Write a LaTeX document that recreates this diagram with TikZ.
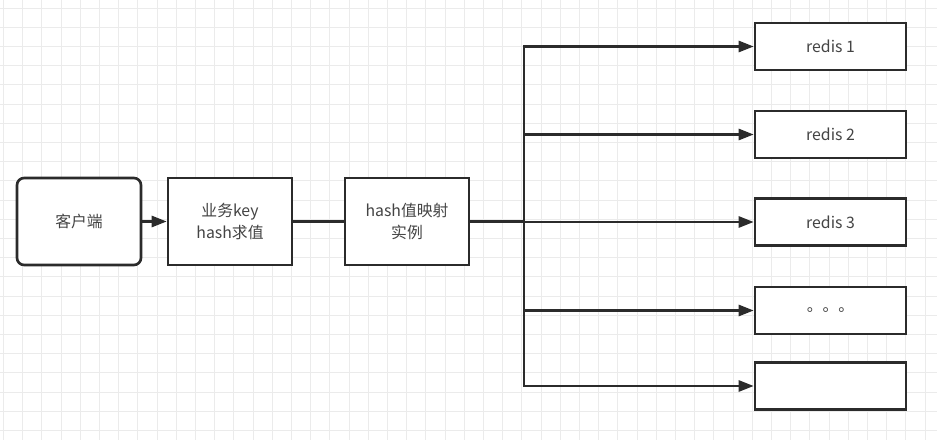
\documentclass[tikz,border=0pt]{standalone}
\usepackage{fontspec}
\setmainfont{Noto Sans CJK SC}
\usetikzlibrary{arrows.meta}
\definecolor{gridgray}{HTML}{EBEBEB}
\definecolor{linegray}{HTML}{2B2B2B}
\definecolor{textgray}{HTML}{444444}

\begin{document}
\begin{tikzpicture}[x=0.02cm,y=-0.02cm,
    box/.style={draw=linegray, line width=1.5pt, fill=white, align=center,
      inner sep=0pt, text=textgray, font=\fontsize{9}{13}\selectfont},
    bigbox/.style={box, minimum width=2.48cm, minimum height=1.74cm},
    redisbox/.style={box, minimum width=3.02cm, minimum height=0.94cm},
    conn/.style={draw=linegray, line width=1.5pt},
    arr/.style={conn, -{Triangle[length=0.3cm,width=0.22cm]}}]
    \useasboundingbox (0,0) rectangle (937,440);

    % Hintergrundraster
    \fill[white] (0,0) rectangle (937,440);
    \foreach \x in {3.4,22.6,...,937}
        \draw[gridgray, line width=0.4pt] (\x,0) -- (\x,440);
    \foreach \y in {8,27.2,...,440}
        \draw[gridgray, line width=0.4pt] (0,\y) -- (937,\y);

    % Linke Kette
    \node[bigbox, rounded corners=4pt] (client) at (79,221.5) {客户端};
    \node[bigbox] (bizkey) at (230,221.5) {业务key\\hash求值};
    \node[bigbox] (hashmap) at (407,221.5) {hash值映射\\实例};

    % Redis-Instanzen
    \node[redisbox] (r1) at (830.5,46.5) {redis 1};
    \node[redisbox] (r2) at (830.5,134.5) {redis 2};
    \node[redisbox] (r3) at (830.5,222) {redis 3};
    \node[redisbox] (r4) at (830.5,310.5) {。。。};
    \node[redisbox] (r5) at (830.5,386) {};

    % Verteilerpunkt
    \coordinate (trunk) at (524,221.5);

    % Verbindungen
    \draw[arr] (client) -- (bizkey);
    \draw[conn] (bizkey) -- (hashmap);
    \draw[conn] (hashmap.east) -- (trunk);
    \foreach \r in {r1,r2,r3,r4,r5}
        \draw[arr] (trunk) |- (\r.west);
\end{tikzpicture}
\end{document}
